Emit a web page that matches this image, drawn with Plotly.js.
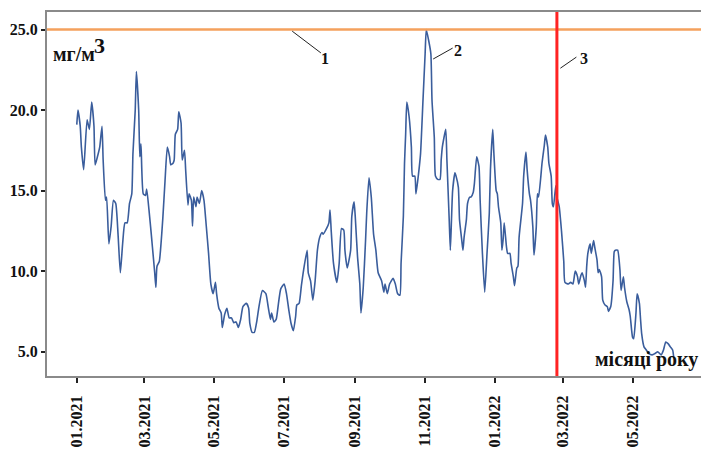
<!DOCTYPE html>
<html><head><meta charset="utf-8">
<script src="https://cdn.plot.ly/plotly-3.0.1.min.js"></script>
<style>html,body{margin:0;padding:0;background:#fff;}#chart{width:701px;height:450px;}</style>
</head><body><div id="chart"></div>
<script>
const dates = [
"2021-01-01","2021-01-02","2021-01-04","2021-01-05","2021-01-07","2021-01-10","2021-01-12","2021-01-14","2021-01-16","2021-01-17",
"2021-01-19","2021-01-21","2021-01-23","2021-01-24","2021-01-26","2021-01-27","2021-01-29","2021-01-31","2021-02-02","2021-02-04",
"2021-02-06","2021-02-08","2021-02-10","2021-02-12","2021-02-14","2021-02-16","2021-02-18","2021-02-19","2021-02-21","2021-02-22",
"2021-02-24","2021-02-25","2021-02-26","2021-02-28","2021-03-02","2021-03-03","2021-03-05","2021-03-07","2021-03-08","2021-03-10",
"2021-03-11","2021-03-12","2021-03-14","2021-03-17","2021-03-19","2021-03-21","2021-03-23","2021-03-24","2021-03-26","2021-03-27",
"2021-03-28","2021-03-30","2021-03-31","2021-04-02","2021-04-03","2021-04-05","2021-04-06","2021-04-08","2021-04-09","2021-04-11",
"2021-04-12","2021-04-13","2021-04-15","2021-04-16","2021-04-18","2021-04-20","2021-04-22","2021-04-24","2021-04-26","2021-04-28",
"2021-04-30","2021-05-02","2021-05-03","2021-05-05","2021-05-07","2021-05-08","2021-05-10","2021-05-12","2021-05-14","2021-05-16",
"2021-05-18","2021-05-20","2021-05-22","2021-05-24","2021-05-26","2021-05-29","2021-05-31","2021-06-01","2021-06-03","2021-06-05",
"2021-06-07","2021-06-09","2021-06-12","2021-06-15","2021-06-17","2021-06-19","2021-06-20","2021-06-22","2021-06-24","2021-06-26",
"2021-06-28","2021-07-01","2021-07-03","2021-07-05","2021-07-07","2021-07-09","2021-07-11","2021-07-12","2021-07-14","2021-07-16",
"2021-07-18","2021-07-21","2021-07-22","2021-07-24","2021-07-26","2021-07-28","2021-07-30","2021-08-01","2021-08-03","2021-08-04",
"2021-08-07","2021-08-09","2021-08-10","2021-08-11","2021-08-13","2021-08-16","2021-08-18","2021-08-20","2021-08-22","2021-08-23",
"2021-08-25","2021-08-28","2021-08-29","2021-08-31","2021-09-01","2021-09-03","2021-09-05","2021-09-06","2021-09-08","2021-09-10",
"2021-09-11","2021-09-13","2021-09-15","2021-09-17","2021-09-19","2021-09-21","2021-09-24","2021-09-26","2021-09-27","2021-09-29",
"2021-10-01","2021-10-04","2021-10-06","2021-10-08","2021-10-10","2021-10-11","2021-10-13","2021-10-14","2021-10-15","2021-10-16",
"2021-10-18","2021-10-20","2021-10-21","2021-10-23","2021-10-24","2021-10-26","2021-10-28","2021-10-30","2021-11-01","2021-11-02",
"2021-11-04","2021-11-06","2021-11-07","2021-11-09","2021-11-10","2021-11-12","2021-11-14","2021-11-15","2021-11-16","2021-11-19",
"2021-11-20","2021-11-22","2021-11-23","2021-11-24","2021-11-25","2021-11-27","2021-11-28","2021-11-30","2021-12-01","2021-12-03",
"2021-12-04","2021-12-05","2021-12-07","2021-12-08","2021-12-10","2021-12-11","2021-12-13","2021-12-14","2021-12-16","2021-12-18",
"2021-12-19","2021-12-21","2021-12-23","2021-12-25","2021-12-27","2021-12-28","2021-12-30","2021-12-31","2022-01-02","2022-01-03",
"2022-01-04","2022-01-06","2022-01-07","2022-01-08","2022-01-09","2022-01-11","2022-01-12","2022-01-14","2022-01-15","2022-01-17",
"2022-01-18","2022-01-20","2022-01-21","2022-01-22","2022-01-25","2022-01-26","2022-01-28","2022-01-29","2022-01-31","2022-02-01",
"2022-02-03","2022-02-04","2022-02-06","2022-02-07","2022-02-08","2022-02-10","2022-02-11","2022-02-13","2022-02-14","2022-02-16",
"2022-02-17","2022-02-19","2022-02-20","2022-02-21","2022-02-23","2022-02-24","2022-02-26","2022-02-28","2022-03-02","2022-03-03",
"2022-03-06","2022-03-08","2022-03-10","2022-03-12","2022-03-14","2022-03-15","2022-03-17","2022-03-18","2022-03-20","2022-03-21",
"2022-03-22","2022-03-23","2022-03-25","2022-03-26","2022-03-28","2022-03-29","2022-03-31","2022-04-01","2022-04-02","2022-04-04",
"2022-04-05","2022-04-07","2022-04-09","2022-04-10","2022-04-12","2022-04-14","2022-04-15","2022-04-16","2022-04-18","2022-04-20",
"2022-04-21","2022-04-23","2022-04-24","2022-04-26","2022-04-28","2022-04-29","2022-05-01","2022-05-02","2022-05-04","2022-05-05",
"2022-05-07","2022-05-08","2022-05-09","2022-05-11","2022-05-13","2022-05-15","2022-05-18","2022-05-21","2022-05-23","2022-05-26",
"2022-05-28","2022-05-30","2022-06-01","2022-06-03","2022-06-05","2022-06-06"
];
const concentration = [
19.1,20.0,19.0,17.7,16.3,19.4,18.8,20.5,19.0,16.6,
17.1,17.7,19.0,16.9,14.4,14.6,11.7,12.8,14.4,14.2,
12.3,9.9,11.7,13.0,13.0,14.2,14.8,17.3,20.0,22.4,
20.0,17.1,17.9,14.8,14.7,15.1,13.8,12.3,11.5,9.9,
9.0,10.3,10.6,13.2,15.6,17.7,17.1,16.6,16.7,16.9,
18.5,18.8,19.9,19.2,16.9,17.5,16.3,14.1,14.8,14.4,
12.8,14.6,14.0,14.6,14.2,15.0,14.4,12.8,11.1,9.2,
8.6,9.3,8.6,7.7,7.4,6.5,7.3,7.7,7.1,7.1,
6.8,6.85,6.5,7.0,7.8,8.0,7.7,6.75,6.2,6.2,
6.85,7.8,8.8,8.6,7.8,7.0,7.4,6.85,7.0,8.0,
8.9,9.2,8.6,7.6,6.75,6.3,7.2,7.9,8.0,9.1,
10.1,11.3,9.9,9.4,8.2,9.4,11.3,12.1,12.4,12.3,
12.65,13.0,13.8,12.55,10.5,9.3,10.5,12.65,12.55,11.3,
10.2,11.3,13.4,14.3,13.4,10.9,9.2,7.4,9.0,11.9,
13.6,15.8,14.6,12.3,11.3,9.9,9.4,8.7,9.2,8.6,
9.2,9.55,9.2,8.6,8.5,10.5,13.4,16.7,18.5,20.5,
19.6,17.7,15.9,15.9,14.8,15.9,17.3,20.4,23.5,25.0,
24.35,23.5,20.6,18.3,15.9,15.7,15.7,16.9,17.7,18.8,
16.9,13.2,11.3,13.2,15.0,16.1,15.9,15.2,13.2,11.9,
11.3,12.1,13.2,14.2,14.6,14.6,14.9,15.45,17.1,16.5,
14.4,11.1,8.7,11.1,13.6,16.3,18.8,17.3,15.0,14.8,
14.0,13.0,11.3,11.9,13.0,11.5,11.1,11.1,10.5,9.65,
9.1,10.2,10.3,12.1,14.2,15.9,17.4,16.3,14.8,14.4,
12.75,11.0,12.75,14.8,14.6,15.9,16.7,17.8,18.45,17.7,
16.7,15.9,14.2,14.0,15.3,14.6,14.0,12.5,10.6,9.3,
9.2,9.3,9.2,10.0,9.65,9.2,9.75,9.9,9.4,9.0,
10.3,11.1,11.7,11.1,11.9,11.5,10.7,9.9,10.1,9.65,
8.2,7.9,7.8,7.5,7.8,9.4,11.2,11.3,11.3,10.1,
8.8,9.65,9.0,8.1,7.6,7.2,5.9,5.8,7.4,8.6,
8.0,7.0,6.1,5.3,5.1,4.9,4.8,4.9,5.0,4.8,
5.1,5.6,5.5,5.3,5.1,4.6
];
const limitValue = 25.0;
const eventDate = "2022-02-24";
const tickDates = ["2021-01-01","2021-03-01","2021-05-01","2021-07-01","2021-09-01","2021-11-01","2022-01-01","2022-03-01","2022-05-01"];
const tickLabels = ["01.2021","03.2021","05.2021","07.2021","09.2021","11.2021","01.2022","03.2022","05.2022"];
const yTicks = [5, 10, 15, 20, 25];
const yTickLabels = ["5.0","10.0","15.0","20.0","25.0"];

const serif = "Liberation Serif, Times New Roman, serif";
const boldFont = (s) => ({family: serif, size: s, color: "#111", weight: "bold"});

const trace = {
  x: dates, y: concentration, type: "scatter", mode: "lines",
  line: {color: "#3a5d9c", width: 1.6, shape: "spline", smoothing: 0.5},
  hoverinfo: "skip"
};

const layout = {
  width: 701, height: 450,
  margin: {l: 47, r: 0, t: 12, b: 74},
  paper_bgcolor: "#fff", plot_bgcolor: "#fff",
  showlegend: false,
  xaxis: {
    type: "date", range: ["2020-12-06", "2022-06-29 18:00"],
    tickmode: "array", tickvals: tickDates, ticktext: tickLabels,
    tickangle: -90, ticks: "outside", ticklen: 5, tickwidth: 2, tickcolor: "#222",
    tickfont: boldFont(16), ticklabelstandoff: 6,
    showgrid: false, zeroline: false,
    showline: true, linecolor: "#8a8a8a", linewidth: 2, mirror: true
  },
  yaxis: {
    range: [3.49, 26.09],
    tickmode: "array", tickvals: yTicks, ticktext: yTickLabels,
    ticks: "outside", ticklen: 4, tickwidth: 2, tickcolor: "#222",
    tickfont: boldFont(16),
    showgrid: false, zeroline: false,
    showline: true, linecolor: "#8a8a8a", linewidth: 2
  },
  shapes: [
    {type: "line", xref: "paper", x0: 0, x1: 1, yref: "y", y0: limitValue, y1: limitValue,
     line: {color: "#f4a15d", width: 2.5}},
    {type: "line", xref: "x", x0: eventDate, x1: eventDate, yref: "paper", y0: 0, y1: 1,
     line: {color: "#ff2323", width: 3}},
    {type: "line", xref: "x", yref: "y", x0: "2021-07-08", y0: 24.9, x1: "2021-08-02", y1: 23.55,
     line: {color: "#222", width: 1}},
    {type: "line", xref: "x", yref: "y", x0: "2021-11-08", y0: 23.17, x1: "2021-11-25", y1: 23.85,
     line: {color: "#222", width: 1}},
    {type: "line", xref: "x", yref: "y", x0: "2022-02-27", y0: 22.6, x1: "2022-03-13", y1: 23.29,
     line: {color: "#222", width: 1}}
  ],
  annotations: [
    {text: "1", xref: "x", yref: "y", x: "2021-08-06", y: 23.23, showarrow: false, font: boldFont(16)},
    {text: "2", xref: "x", yref: "y", x: "2021-11-30", y: 23.73, showarrow: false, font: boldFont(16)},
    {text: "3", xref: "x", yref: "y", x: "2022-03-20", y: 23.23, showarrow: false, font: boldFont(16)},
    {text: "мг/м", xref: "paper", yref: "paper", x: 0.008, y: 0.885, xanchor: "left", yanchor: "middle",
     showarrow: false, font: boldFont(20), borderpad: 0},
    {text: "3", xref: "paper", yref: "paper", x: 0.071, y: 0.907, xanchor: "left", yanchor: "middle",
     showarrow: false, font: boldFont(22), borderpad: 0},
    {text: "місяці року", xref: "paper", yref: "paper", x: 0.999, y: 0.044, xanchor: "right", yanchor: "middle",
     showarrow: false, font: boldFont(20)}
  ]
};

Plotly.newPlot("chart", [trace], layout, {displayModeBar: false, staticPlot: true});
</script>
</body></html>
